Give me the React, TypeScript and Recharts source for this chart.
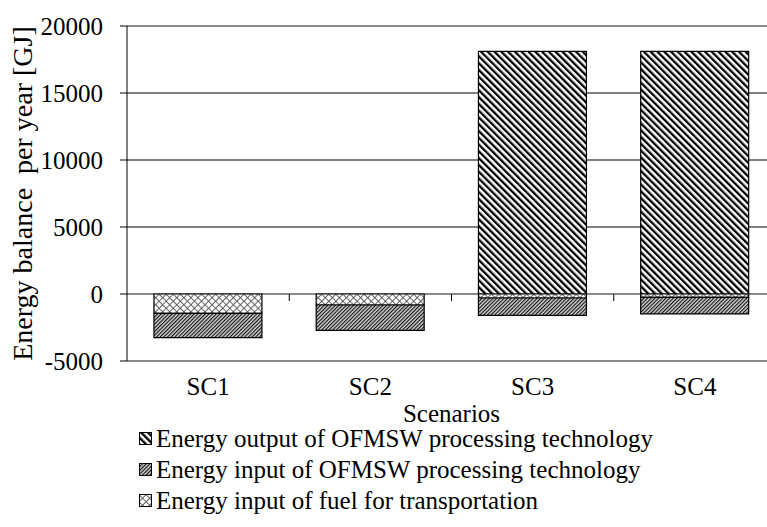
import React from "react";
import {
  BarChart,
  Bar,
  XAxis,
  YAxis,
  CartesianGrid,
} from "recharts";

const scenarios = ["SC1", "SC2", "SC3", "SC4"];
const outputProcessing = [0, 0, 18100, 18100];
const transportInput = [-1440, -820, -300, -250];
const processingInput = [-1820, -1890, -1290, -1240];
const yTicks = [-5000, 0, 5000, 10000, 15000, 20000];

const legendItems = [
  { label: "Energy output of OFMSW processing technology", fill: "url(#pOut)" },
  { label: "Energy input of OFMSW processing technology", fill: "url(#pProc)" },
  { label: "Energy input of fuel for transportation", fill: "url(#pTrans)" },
];

const data = scenarios.map((name, i) => ({
  name,
  output: outputProcessing[i],
  transport: transportInput[i],
  processing: processingInput[i],
}));

const FONT = "'Liberation Serif', 'Times New Roman', serif";
const TOP = 26;
const PLOT_H = 335;
const Y_MIN = -5000;
const Y_MAX = 20000;
const Y_ZERO = TOP + (PLOT_H * Y_MAX) / (Y_MAX - Y_MIN);

const XTick = (props: any) => {
  const { x, y, payload, index } = props;
  const half = payload?.offset ?? 81;
  return (
    <g>
      <text x={x} y={y + 34} textAnchor="middle" fill="#000" fontSize={25} fontFamily={FONT}>
        {payload.value}
      </text>
      {index < scenarios.length - 1 && (
        <line x1={x + half} x2={x + half} y1={Y_ZERO} y2={Y_ZERO + 7} stroke="#000" strokeWidth={1} />
      )}
    </g>
  );
};

const YLabel = (props: any) => {
  const vb = props.viewBox || {};
  const cy = (vb.y ?? TOP) + (vb.height ?? PLOT_H) / 2;
  return (
    <text
      x={22}
      y={cy}
      transform={`rotate(-90 22 ${cy})`}
      textAnchor="middle"
      dominantBaseline="central"
      fill="#000"
      fontSize={28}
      fontFamily={FONT}
      style={{ whiteSpace: "pre" }}
    >
      Energy balance  per year [GJ]
    </text>
  );
};

const Patterns = () => (
  <svg width={0} height={0} style={{ position: "absolute" }}>
    <defs>
      <pattern id="pOut" patternUnits="userSpaceOnUse" width={4.8} height={4.8} patternTransform="rotate(-45)">
        <rect width={4.8} height={4.8} fill="#fff" />
        <rect width={2.3} height={4.8} fill="#000" />
      </pattern>
      <pattern id="pProc" patternUnits="userSpaceOnUse" width={2.6} height={2.6} patternTransform="rotate(45)">
        <rect width={2.6} height={2.6} fill="#cfcfcf" />
        <rect width={1.1} height={2.6} fill="#111" />
      </pattern>
      <pattern id="pTrans" patternUnits="userSpaceOnUse" width={5} height={5} patternTransform="rotate(45)">
        <rect width={5} height={5} fill="#fff" />
        <rect width={0.9} height={5} fill="#555" />
        <rect width={5} height={0.9} fill="#555" />
      </pattern>
    </defs>
  </svg>
);

export default function App() {
  return (
    <div
      style={{
        position: "absolute",
        left: 0,
        top: 0,
        width: 767,
        height: 527,
        overflow: "hidden",
        background: "#fff",
        fontFamily: FONT,
      }}
    >
      <Patterns />
      <BarChart
        width={780}
        height={430}
        data={data}
        stackOffset="sign"
        barCategoryGap="16.6%"
        margin={{ top: TOP, right: 4, bottom: 3, left: 0 }}
      >
        <CartesianGrid vertical={false} horizontalValues={[5000, 10000, 15000]} stroke="#000" strokeWidth={1} />
        <CartesianGrid vertical={false} horizontalValues={[20000, 0]} stroke="#8a8a8a" strokeWidth={2} />
        <XAxis
          dataKey="name"
          height={66}
          tickSize={0}
          tickMargin={0}
          tickLine={false}
          axisLine={{ stroke: "#8a8a8a", strokeWidth: 2 }}
          tick={<XTick />}
          label={{
            value: "Scenarios",
            position: "insideBottom",
            offset: 5,
            fill: "#000",
            fontSize: 25,
            fontFamily: FONT,
          }}
        />
        <YAxis
          width={127}
          domain={[Y_MIN, Y_MAX]}
          ticks={yTicks}
          interval={0}
          tickSize={7}
          tickMargin={17}
          axisLine={{ stroke: "#000", strokeWidth: 1 }}
          tickLine={{ stroke: "#000", strokeWidth: 1 }}
          tick={{ fill: "#000", fontSize: 25, fontFamily: FONT }}
          label={<YLabel />}
        />
        <Bar dataKey="output" stackId="a" fill="url(#pOut)" stroke="#000" strokeWidth={1.2} isAnimationActive={false} />
        <Bar dataKey="transport" stackId="a" fill="url(#pTrans)" stroke="#000" strokeWidth={1.2} isAnimationActive={false} />
        <Bar dataKey="processing" stackId="a" fill="url(#pProc)" stroke="#000" strokeWidth={1.2} isAnimationActive={false} />
      </BarChart>
      <div style={{ position: "absolute", left: 139, top: 423 }}>
        {legendItems.map((item) => (
          <div
            key={item.label}
            style={{ display: "flex", alignItems: "center", height: 31, fontSize: 25, color: "#000", whiteSpace: "nowrap" }}
          >
            <svg width={13} height={13} style={{ marginRight: 4 }}>
              <rect x={0.5} y={0.5} width={12} height={12} fill={item.fill} stroke="#000" strokeWidth={1} />
            </svg>
            <span>{item.label}</span>
          </div>
        ))}
      </div>
    </div>
  );
}
